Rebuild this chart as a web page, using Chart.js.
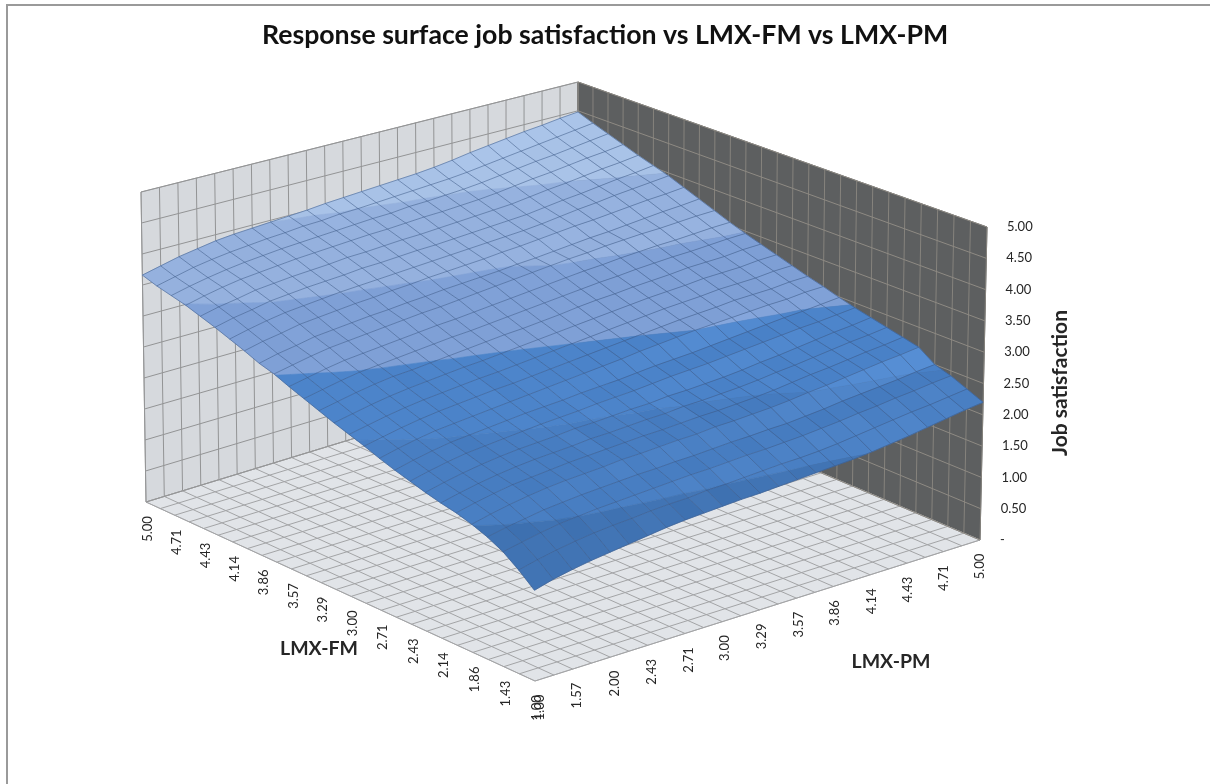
<!DOCTYPE html>
<html>
<head>
<meta charset="utf-8">
<title>Response surface</title>
<script src="https://cdn.jsdelivr.net/npm/chart.js@4"></script>
<style>
  html, body { margin: 0; padding: 0; background: #fff; }
  #frame { position: absolute; left: 6px; top: 4px; right: 0; bottom: 0; border-left: 2px solid #9a9a9a; border-top: 2px solid #9a9a9a; }
  canvas { position: absolute; left: 0; top: 0; }
</style>
</head>
<body>
<div id="frame"></div>
<canvas id="surface" width="1210" height="784"></canvas>
<script>
const chartTitle = 'Response surface job satisfaction vs LMX-FM vs LMX-PM';
const fmTicks = ['5.00','4.71','4.43','4.14','3.86','3.57','3.29','3.00','2.71','2.43','2.14','1.86','1.43','1.00'];
const pmTicks = ['1.00','1.57','2.00','2.43','2.71','3.00','3.29','3.57','3.86','4.14','4.43','4.71','5.00'];
const zTicks = ['-','0.50','1.00','1.50','2.00','2.50','3.00','3.50','4.00','4.50','5.00'];
const bandLimits = [3.97, 3.47, 2.94, 2.46, 1.92];

// job satisfaction, one row per LMX-FM step (5.00 down to 1.00), one column per LMX-PM step (1.00 up to 5.00)
const satisfaction = [
  [3.66,3.73,3.80,3.85,3.90,3.93,3.95,3.97,3.99,4.01,4.04,4.06,4.08,4.10,4.12,4.14,4.17,4.21,4.26,4.30,4.34,4.38,4.41,4.45,4.48],
  [3.58,3.65,3.72,3.77,3.81,3.84,3.87,3.89,3.92,3.93,3.96,3.97,3.99,4.01,4.03,4.05,4.07,4.10,4.14,4.18,4.22,4.26,4.30,4.34,4.38],
  [3.52,3.59,3.65,3.70,3.74,3.77,3.80,3.82,3.84,3.86,3.88,3.90,3.91,3.94,3.95,3.97,3.99,4.02,4.06,4.10,4.14,4.17,4.21,4.25,4.29],
  [3.46,3.53,3.59,3.64,3.67,3.70,3.73,3.75,3.77,3.79,3.81,3.82,3.84,3.86,3.87,3.89,3.91,3.94,3.98,4.02,4.05,4.09,4.13,4.16,4.20],
  [3.38,3.45,3.50,3.56,3.59,3.62,3.64,3.66,3.69,3.70,3.72,3.74,3.75,3.77,3.79,3.81,3.83,3.85,3.89,3.93,3.96,4.00,4.04,4.07,4.11],
  [3.30,3.37,3.42,3.48,3.51,3.54,3.56,3.58,3.61,3.62,3.64,3.66,3.67,3.69,3.71,3.73,3.75,3.77,3.81,3.85,3.88,3.92,3.96,3.99,4.03],
  [3.21,3.28,3.34,3.39,3.42,3.45,3.48,3.50,3.52,3.54,3.56,3.58,3.60,3.62,3.64,3.66,3.68,3.71,3.75,3.79,3.82,3.86,3.89,3.92,3.95],
  [3.12,3.19,3.24,3.30,3.33,3.36,3.39,3.41,3.44,3.46,3.49,3.51,3.53,3.55,3.58,3.60,3.63,3.66,3.69,3.71,3.74,3.77,3.80,3.82,3.85],
  [3.02,3.09,3.14,3.20,3.23,3.26,3.29,3.31,3.34,3.36,3.39,3.41,3.43,3.45,3.48,3.50,3.53,3.56,3.59,3.61,3.64,3.67,3.70,3.72,3.75],
  [2.95,3.01,3.07,3.12,3.15,3.18,3.21,3.24,3.27,3.29,3.32,3.35,3.38,3.41,3.44,3.47,3.50,3.52,3.55,3.57,3.59,3.60,3.62,3.64,3.65],
  [2.85,2.91,2.97,3.02,3.05,3.08,3.11,3.14,3.17,3.19,3.22,3.25,3.28,3.31,3.34,3.37,3.40,3.42,3.45,3.47,3.49,3.50,3.52,3.54,3.55],
  [2.76,2.82,2.88,2.93,2.96,2.99,3.02,3.05,3.08,3.10,3.13,3.16,3.19,3.22,3.25,3.28,3.31,3.33,3.36,3.38,3.40,3.41,3.43,3.45,3.46],
  [2.67,2.73,2.79,2.84,2.88,2.90,2.93,2.96,2.99,3.02,3.05,3.07,3.10,3.13,3.17,3.20,3.22,3.25,3.27,3.29,3.32,3.33,3.34,3.37,3.38],
  [2.58,2.64,2.70,2.75,2.79,2.82,2.85,2.88,2.90,2.93,2.96,2.99,3.02,3.05,3.08,3.11,3.14,3.17,3.19,3.21,3.24,3.25,3.26,3.29,3.30],
  [2.50,2.56,2.62,2.67,2.71,2.74,2.77,2.80,2.82,2.85,2.88,2.91,2.94,2.97,3.00,3.03,3.06,3.09,3.11,3.13,3.16,3.17,3.18,3.21,3.22],
  [2.42,2.48,2.54,2.59,2.63,2.66,2.69,2.72,2.74,2.77,2.80,2.83,2.86,2.89,2.92,2.95,2.98,3.01,3.03,3.05,3.08,3.09,3.10,3.13,3.14],
  [2.33,2.40,2.46,2.51,2.54,2.57,2.60,2.63,2.66,2.69,2.72,2.75,2.78,2.81,2.85,2.88,2.91,2.94,2.96,2.98,3.00,3.02,3.03,3.06,3.07],
  [2.25,2.32,2.38,2.43,2.46,2.49,2.52,2.55,2.57,2.59,2.62,2.64,2.66,2.69,2.72,2.74,2.76,2.79,2.82,2.85,2.88,2.91,2.93,2.96,2.99],
  [2.18,2.25,2.31,2.36,2.39,2.42,2.45,2.48,2.50,2.52,2.55,2.57,2.59,2.62,2.65,2.67,2.69,2.72,2.75,2.78,2.81,2.84,2.86,2.89,2.92],
  [2.11,2.18,2.24,2.29,2.33,2.36,2.38,2.40,2.43,2.44,2.46,2.48,2.49,2.52,2.53,2.55,2.57,2.60,2.64,2.67,2.71,2.75,2.79,2.82,2.86],
  [2.05,2.12,2.18,2.23,2.27,2.30,2.32,2.34,2.37,2.38,2.40,2.42,2.43,2.46,2.47,2.49,2.51,2.54,2.58,2.61,2.65,2.69,2.73,2.76,2.80],
  [2.00,2.07,2.13,2.18,2.21,2.24,2.27,2.29,2.31,2.33,2.35,2.36,2.38,2.40,2.41,2.43,2.45,2.48,2.52,2.56,2.59,2.63,2.67,2.70,2.74],
  [1.93,2.00,2.06,2.11,2.15,2.18,2.20,2.22,2.25,2.26,2.28,2.30,2.31,2.34,2.35,2.37,2.39,2.42,2.46,2.49,2.53,2.57,2.61,2.64,2.68],
  [1.84,1.90,1.95,2.00,2.03,2.06,2.08,2.10,2.12,2.13,2.15,2.16,2.18,2.20,2.21,2.23,2.24,2.27,2.30,2.34,2.37,2.40,2.43,2.47,2.50],
  [1.72,1.78,1.84,1.89,1.92,1.95,1.97,1.99,2.01,2.03,2.05,2.06,2.08,2.10,2.11,2.13,2.15,2.18,2.21,2.25,2.28,2.32,2.35,2.39,2.42],
  [1.55,1.62,1.68,1.73,1.77,1.80,1.82,1.85,1.87,1.88,1.91,1.92,1.94,1.96,1.98,1.99,2.01,2.04,2.08,2.12,2.16,2.20,2.23,2.27,2.31],
  [1.35,1.43,1.49,1.54,1.58,1.62,1.66,1.70,1.73,1.75,1.77,1.79,1.80,1.82,1.84,1.86,1.88,1.90,1.93,1.97,2.01,2.06,2.11,2.16,2.20]
];

const bandColors = [[168,194,231], [149,177,222], [127,160,214], [76,132,202], [72,126,194], [63,114,178]];

const ROWS = satisfaction.length - 1, COLS = satisfaction[0].length - 1, ZMAX = 5;

// square to quad, corners in order (0,0) (1,0) (1,1) (0,1)
function quadMap(q) {
  const [x0,y0,x1,y1,x2,y2,x3,y3] = q;
  const dx1 = x1-x2, dx2 = x3-x2, sx = x0-x1+x2-x3;
  const dy1 = y1-y2, dy2 = y3-y2, sy = y0-y1+y2-y3;
  const den = dx1*dy2 - dx2*dy1;
  const g = (sx*dy2 - dx2*sy)/den, h = (dx1*sy - sx*dy1)/den;
  const a = x1-x0+g*x1, b = x3-x0+h*x3, d = y1-y0+g*y1, e = y3-y0+h*y3;
  return (u, v) => {
    const w = g*u + h*v + 1;
    return [(a*u + b*v + x0)/w, (d*u + e*v + y0)/w];
  };
}

// view of the box: floor and ceiling corners, left / front / right / back
const floorAt = quadMap([146,502, 535,681, 980,540, 578,370]);
const ceilAt = quadMap([141,192, 533,345, 987,227, 578,82]);

function project(i, j, z) {
  const f = floorAt(i/ROWS, j/COLS), c = ceilAt(i/ROWS, j/COLS), t = z/ZMAX;
  return {x: f[0] + (c[0]-f[0])*t, y: f[1] + (c[1]-f[1])*t};
}

const datasets = [];
function addShape(pts, fill, stroke, width) {
  datasets.push({data: pts, showLine: true, fill: 'shape', backgroundColor: fill, borderColor: stroke, borderWidth: width, pointRadius: 0, tension: 0});
}
function addLine(pts, stroke, width) {
  datasets.push({data: pts, showLine: true, fill: false, borderColor: stroke, borderWidth: width, pointRadius: 0, tension: 0});
}

// walls and floor
addShape([project(0,0,0), project(0,COLS,0), project(0,COLS,ZMAX), project(0,0,ZMAX), project(0,0,0)], '#d6d9dd', '#a3a4a5', 1);
addShape([project(0,COLS,0), project(ROWS,COLS,0), project(ROWS,COLS,ZMAX), project(0,COLS,ZMAX), project(0,COLS,0)], '#5d5f60', '#5d5f60', 1);
addShape([project(0,0,0), project(ROWS,0,0), project(ROWS,COLS,0), project(0,COLS,0), project(0,0,0)], '#e1e4e8', '#b0b1b3', 1);

for (let j = 0; j <= COLS; j++) {
  addLine([project(0,j,0), project(0,j,ZMAX)], '#939495', 1);
  addLine([project(0,j,0), project(ROWS,j,0)], '#a3a4a6', 1);
}
for (let i = 0; i <= ROWS; i++) {
  addLine([project(i,COLS,0), project(i,COLS,ZMAX)], '#86837d', 1);
  addLine([project(i,0,0), project(i,COLS,0)], '#a3a4a6', 1);
}
for (let k = 0; k < zTicks.length; k++) {
  const z = k/2;
  addLine([project(0,0,z), project(0,COLS,z)], '#939495', 1);
  addLine([project(0,COLS,z), project(ROWS,COLS,z)], '#8e8a83', 1);
}

// keep the part of a cell polygon on one side of a level
function clipLevel(poly, level, keepAbove) {
  const out = [];
  for (let n = 0; n < poly.length; n++) {
    const p = poly[n], q = poly[(n+1) % poly.length];
    const pIn = keepAbove ? p.z >= level : p.z <= level;
    const qIn = keepAbove ? q.z >= level : q.z <= level;
    if (pIn) out.push(p);
    if (pIn !== qIn) {
      const t = (level - p.z)/(q.z - p.z);
      out.push({i: p.i + (q.i-p.i)*t, j: p.j + (q.j-p.j)*t, z: level});
    }
  }
  return out;
}

// small uneven lighting: bumps in the surface show as brighter or darker cells
function cellLight(i, j) {
  const z = satisfaction;
  const stepJ = (a, b) => z[a][Math.min(b+1, COLS)] - z[a][b];
  const stepI = (a, b) => z[a][b] - z[Math.min(a+1, ROWS)][b];
  const bumpJ = stepJ(i, j) - (stepJ(i, Math.max(j-1, 0)) + stepJ(i, Math.min(j+1, COLS-1)))/2;
  const bumpI = stepI(i, j) - (stepI(Math.max(i-1, 0), j) + stepI(Math.min(i+1, ROWS-1), j))/2;
  const steep = Math.max(0, stepI(i, j) - 0.09)*(j/COLS)*90;
  const strength = z[i][j] < 3 ? 1 : 0.4;
  return Math.max(-3, Math.min(3, (bumpJ*1.5 + bumpI*0.4)*150*strength)) + Math.min(steep, 10);
}

for (let i = 0; i < ROWS; i++) {
  for (let j = 0; j < COLS; j++) {
    let cell = [[i,j],[i+1,j],[i+1,j+1],[i,j+1]].map(([a,b]) => ({i: a, j: b, z: satisfaction[a][b]}));
    const light = cellLight(i, j);
    for (let b = 0; b < bandColors.length && cell.length; b++) {
      const piece = b < bandLimits.length ? clipLevel(cell, bandLimits[b], true) : cell;
      if (piece.length > 2) {
        const pts = piece.map(p => project(p.i, p.j, p.z));
        pts.push(pts[0]);
        const [r, g, bl] = bandColors[b];
        const col = `rgb(${r + light}, ${g + light}, ${bl + light})`;
        addShape(pts, col, col, 0.6);
      }
      if (b < bandLimits.length) cell = clipLevel(cell, bandLimits[b], false);
    }
  }
}

// mesh on the surface
for (let i = 0; i <= ROWS; i++) {
  addLine(satisfaction[i].map((z, j) => project(i, j, z)), 'rgba(60,90,135,0.6)', 0.9);
}
for (let j = 0; j <= COLS; j++) {
  addLine(satisfaction.map((row, i) => project(i, j, row[j])), 'rgba(60,90,135,0.6)', 0.9);
}

// Chart.js paints the first dataset last
datasets.reverse();

const boxText = {
  id: 'boxText',
  afterDraw(chart) {
    const {ctx, scales: {x, y}} = chart;
    const at = p => [x.getPixelForValue(p.x), y.getPixelForValue(p.y)];
    const put = (text, px, py, font, angle) => {
      ctx.save();
      ctx.translate(px, py);
      if (angle) ctx.rotate(angle);
      ctx.font = font;
      ctx.fillStyle = '#262626';
      ctx.fillText(text, 0, 0);
      ctx.restore();
    };
    ctx.textAlign = 'center';
    ctx.textBaseline = 'middle';
    const tickFont = '13px Lato';
    const titleFont = 'bold 19.5px Lato';
    fmTicks.forEach((t, n) => {
      const [px, py] = at(project(n*2, 0, 0));
      put(t, px + 2, py + 27, tickFont, -Math.PI/2);
    });
    pmTicks.forEach((t, n) => {
      const [px, py] = at(project(ROWS, n*2, 0));
      put(t, px + 5 - n*0.4, py + 26.5, tickFont, -Math.PI/2);
    });
    ctx.textAlign = 'left';
    zTicks.forEach((t, n) => {
      const [qx, qy] = at(project(ROWS, COLS, n/2));
      put(t, qx + 20, qy, tickFont, 0);
    });
    ctx.textAlign = 'center';
    put('LMX-FM', 319, 649, titleFont, 0);
    put('LMX-PM', 891, 662, titleFont, 0);
    put('Job satisfaction', 1060, 383, 'bold 21px Lato', -Math.PI/2);
  }
};

new Chart(document.getElementById('surface').getContext('2d'), {
  type: 'scatter',
  data: {datasets},
  options: {
    responsive: false,
    animation: false,
    events: [],
    layout: {padding: 0},
    scales: {
      x: {type: 'linear', display: false, min: 0, max: 1210},
      y: {type: 'linear', display: false, reverse: true, min: 50, max: 784}
    },
    plugins: {
      legend: {display: false},
      tooltip: {enabled: false},
      title: {
        display: true,
        text: chartTitle,
        color: '#111',
        padding: {top: 20, bottom: 0},
        font: {family: 'Lato', size: 26.7, weight: 'bold', lineHeight: '30px'}
      }
    }
  },
  plugins: [boxText]
});
</script>
</body>
</html>
